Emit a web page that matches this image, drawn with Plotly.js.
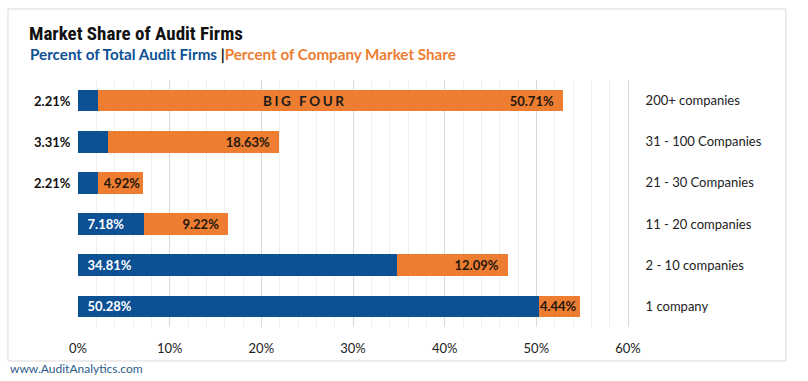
<!DOCTYPE html>
<html><head><meta charset="utf-8">
<script src="https://cdn.plot.ly/plotly-3.0.1.min.js"></script>
<style>html,body{margin:0;padding:0;background:#fff}#c{width:808px;height:381px}</style>
</head><body><div id="c"></div>
<script>
var categories = ['200+ companies','31 - 100 Companies','21 - 30 Companies','11 - 20 companies','2 - 10 companies','1 company'];
var firmsPct = [2.21, 3.31, 2.21, 7.18, 34.81, 50.28];
var marketPct = [50.71, 18.63, 4.92, 9.22, 12.09, 4.44];
var xTicks = [0,10,20,30,40,50,60];
var xTickLabels = ['0%','10%','20%','30%','40%','50%','60%'];
var bigFourLabel = 'BIG FOUR';

var BLUE = '#0d5195', ORANGE = '#ed7d31';
var FONT = 'Lato, "Open Sans", sans-serif';
var PAD = '\u2002';

var blueInside = firmsPct.map(function(v){ return v > 5; });
var traceFirms = {
  type:'bar', orientation:'h', y:categories, x:firmsPct, width:0.53,
  marker:{color:BLUE},
  text: firmsPct.map(function(v,i){ return blueInside[i] ? PAD + v.toFixed(2)+'%' : ''; }),
  textposition:'inside', insidetextanchor:'start', constraintext:'none',
  textfont:{color:'#ffffff', size:13, family:FONT, weight:'bold'},
  hoverinfo:'skip'
};
var traceMarket = {
  type:'bar', orientation:'h', y:categories, x:marketPct, width:0.53,
  marker:{color:ORANGE},
  text: marketPct.map(function(v){ return v.toFixed(2)+'%' + (v > 8 ? PAD : ''); }),
  textposition:'inside', insidetextanchor:'end', constraintext:'none',
  textfont:{color:'#24170e', size:13, family:FONT, weight:'bold'},
  hoverinfo:'skip'
};

var ann = [];
firmsPct.forEach(function(v,i){
  if(!blueInside[i]) ann.push({x:0, y:categories[i], xref:'x', yref:'y', xanchor:'right', xshift:-5,
    text:'<b>'+v.toFixed(2)+'%</b>', showarrow:false, font:{size:13, family:FONT, color:'#111'}});
});
ann.push({x:firmsPct[0]+marketPct[0]/2, y:categories[0], xref:'x', yref:'y', xanchor:'center', xshift:-27,
  text:'<b>'+bigFourLabel.split('').join('\u2009\u200a')+'</b>', showarrow:false, font:{size:13.5, family:FONT, color:'#1a1a1a'}});
ann.push({x:-0.091, y:1.105, xref:'paper', yref:'paper', xanchor:'left', yanchor:'middle',
  text:'<b><span style="color:'+BLUE+'">Percent of Total Audit Firms</span> <span style="color:#111">|</span><span style="color:'+ORANGE+'">Percent of Company Market Share</span></b>',
  showarrow:false, font:{size:15.2, family:FONT}});
ann.push({x:-0.093, y:1.19, xref:'paper', yref:'paper', xanchor:'left', yanchor:'middle',
  text:'<b>Market Share of Audit Firms</b>', showarrow:false,
  font:{size:19, family:'"Liberation Sans Narrow", "Roboto Condensed", Arial, sans-serif', color:'#111'}});
ann.push({x:-0.127, y:-0.166, xref:'paper', yref:'paper', xanchor:'left', yanchor:'middle',
  text:'www.AuditAnalytics.com', showarrow:false, font:{size:12, family:FONT, color:'#2e5c8a'}});

var layout = {
  width:808, height:381, margin:{l:78, r:180, t:80, b:54},
  paper_bgcolor:'#fff', plot_bgcolor:'#fff',
  barmode:'stack', showlegend:false,
  xaxis:{range:[0,60], tickvals:xTicks, ticktext:xTickLabels, showgrid:true, gridcolor:'#d9d9d9', gridwidth:1,
    minor:{dtick:2, showgrid:true, gridcolor:'#efefef', gridwidth:1},
    zeroline:false, showline:false, ticks:'', ticklabelstandoff:12,
    tickfont:{size:13, family:FONT, color:'#222'}, fixedrange:true},
  yaxis:{type:'category', autorange:'reversed', side:'right', showgrid:false, zeroline:false,
    showline:true, linecolor:'#d9d9d9', linewidth:1, ticks:'', ticklabelstandoff:14,
    tickfont:{size:13, family:FONT, color:'#222'}, fixedrange:true},
  annotations:ann,
  shapes:[{type:'rect', xref:'paper', yref:'paper', x0:-0.1273, x1:1.2873, y0:-0.1377, y1:1.2874,
    line:{color:'#d9d9d9', width:1}, fillcolor:'rgba(0,0,0,0)', layer:'below'}]
};
Plotly.newPlot('c', [traceFirms, traceMarket], layout, {displayModeBar:false, staticPlot:true});
</script></body></html>
